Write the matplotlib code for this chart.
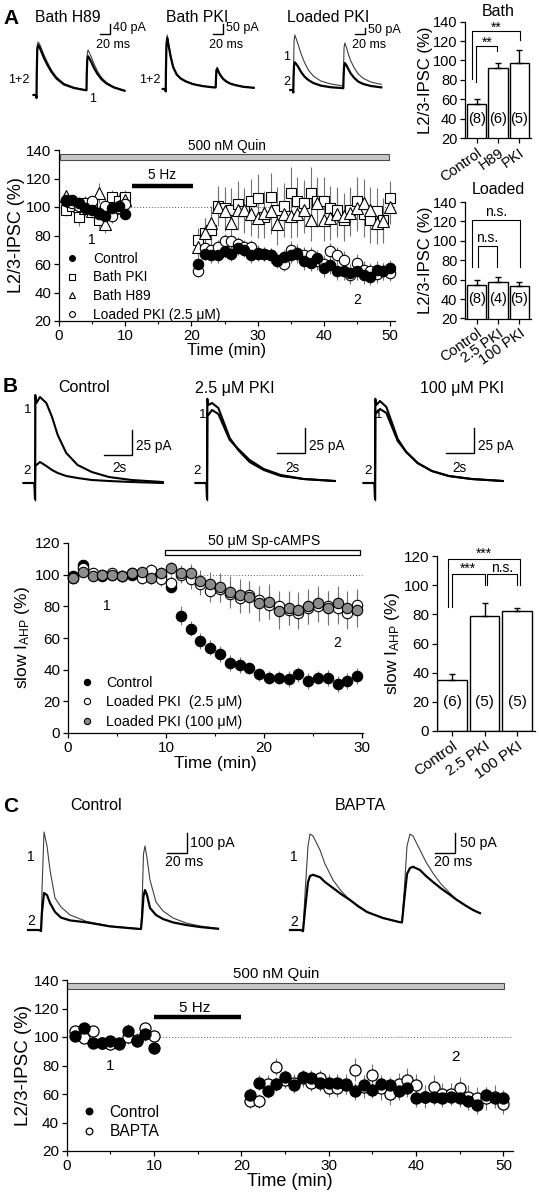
import matplotlib
matplotlib.use("Agg")
import matplotlib.pyplot as plt
from matplotlib.patches import Rectangle

plt.rcParams['font.family'] = ['Liberation Sans', 'DejaVu Sans']
plt.rcParams['mathtext.fontset'] = 'custom'
plt.rcParams['mathtext.rm'] = 'Liberation Sans'
plt.rcParams['mathtext.it'] = 'Liberation Sans:italic'

# ---------------- data: panel A ----------------
time_a = [1, 2, 3, 4, 5, 6, 7, 8, 9, 10,
          21, 22, 23, 24, 25, 26, 27, 28, 29, 30, 31, 32, 33, 34, 35,
          36, 37, 38, 39, 40, 41, 42, 43, 44, 45, 46, 47, 48, 49, 50]
a_control = [104, 105, 103, 99, 98, 96, 94, 99, 101, 95,
             60, 67, 66, 66, 69, 67, 71, 70, 66, 67, 67, 66, 62, 65, 66,
             67, 62, 61, 64, 57, 59, 55, 55, 54, 55, 52, 51, 56, 55, 57]
a_control_err = [3, 3, 4, 4, 4, 5, 5, 4, 4, 3,
                 4, 4, 5, 5, 5, 5, 5, 5, 5, 5, 5, 5, 5, 5, 5,
                 6, 6, 6, 6, 6, 6, 6, 6, 6, 6, 6, 6, 6, 6, 6]
a_bath_pki = [98, 101, 93, 103, 102, 91, 96, 107, 104, 107,
              77, 82, 84, 101, 99, 98, 102, 97, 104, 106, 93, 107, 98, 101, 110,
              104, 103, 110, 104, 104, 99, 98, 91, 98, 104, 95, 91, 97, 91, 106]
a_bath_pki_err = [4, 4, 6, 5, 5, 6, 6, 5, 6, 5,
                  8, 10, 12, 14, 15, 15, 16, 15, 16, 17, 15, 17, 16, 16, 18,
                  17, 16, 18, 17, 17, 16, 16, 15, 16, 17, 16, 16, 16, 15, 12]
a_bath_h89 = [108, 104, 101, 99, 97, 110, 88, 99, 101, 105,
              72, 82, 89, 100, 97, 89, 98, 98, 95, 92, 96, 97, 88, 95, 94,
              95, 98, 91, 103, 91, 92, 95, 94, 96, 99, 103, 98, 89, 90, 100]
a_bath_h89_err = [4, 4, 5, 5, 5, 7, 6, 5, 5, 5,
                  8, 10, 12, 12, 14, 13, 14, 15, 15, 14, 15, 16, 15, 16, 16,
                  16, 16, 15, 17, 15, 15, 16, 16, 16, 16, 17, 16, 15, 15, 12]
a_loaded = [105, 103, 101, 103, 104, 95, 101, 94, 99, 102,
            55, 71, 70, 72, 76, 76, 74, 72, 72, 68, 67, 66, 63, 60, 70,
            68, 66, 66, 62, 60, 69, 66, 63, 52, 61, 56, 55, 53, 55, 54]
a_loaded_err = [3, 3, 4, 4, 4, 5, 5, 5, 4, 4,
                4, 5, 5, 5, 5, 5, 5, 5, 5, 5, 5, 5, 5, 5, 6,
                6, 6, 6, 6, 6, 6, 6, 6, 6, 6, 6, 6, 6, 6, 6]

bath_groups = ['Control', 'H89', 'PKI']
bath_vals = [55, 92, 97]
bath_err = [5, 5, 14]
bath_n = ['(8)', '(6)', '(5)']
loaded_groups = ['Control', '2.5 PKI', '100 PKI']
loaded_vals = [55, 58, 53]
loaded_err = [5, 5, 5]
loaded_n = ['(8)', '(4)', '(5)']

# example IPSC traces (ms, pA)
trace_t_a = [-6, -1, 0, 0.5, 1.5, 3, 6, 10, 15, 22, 30, 40, 55, 75, 96,
             100, 100.5, 101.5, 103, 106, 110, 115, 122, 130, 140, 155, 176]
h89_1 = [0, 0, -12, 90, 190, 212, 205, 185, 160, 130, 100, 72, 46, 30, 21,
         20, 95, 165, 180, 168, 150, 125, 95, 70, 50, 32, 18]
h89_2 = [0, 0, -12, 85, 180, 200, 192, 172, 148, 120, 92, 66, 42, 28, 20,
         19, 85, 140, 155, 146, 130, 108, 84, 63, 46, 30, 17]
bpki_1 = [0, 0, -12, 100, 230, 270, 225, 170, 115, 75, 55, 40, 25, 15, 8,
          8, 50, 100, 110, 90, 70, 52, 38, 28, 20, 12, 6]
bpki_2 = [0, 0, -12, 95, 220, 255, 215, 160, 108, 72, 52, 38, 24, 14, 8,
          8, 48, 95, 100, 84, 66, 50, 36, 26, 19, 11, 6]
lpki_1 = [0, 0, -20, 176, 384, 440, 408, 360, 296, 224, 160, 112, 72, 48, 35,
          32, 176, 336, 376, 344, 288, 232, 176, 128, 93, 64, 45]
lpki_2 = [0, 0, -20, 96, 200, 221, 208, 184, 147, 109, 80, 56, 35, 22, 16,
          14, 96, 184, 216, 200, 168, 131, 96, 67, 48, 32, 21]

# ---------------- data: panel B ----------------
time_b = [0.5, 1.5, 2.5, 3.5, 4.5, 5.5, 6.5, 7.5, 8.5, 9.5,
          10.5, 11.5, 12.5, 13.5, 14.5, 15.5, 16.5, 17.5, 18.5, 19.5,
          20.5, 21.5, 22.5, 23.5, 24.5, 25.5, 26.5, 27.5, 28.5, 29.5]
b_control = [99, 106, 100, 99, 100, 99, 100, 100, 100, 99,
             92, 74, 66, 58, 54, 50, 44, 43, 41, 37,
             35, 35, 34, 37, 33, 35, 35, 31, 33, 36]
b_control_err = [2, 3, 2, 2, 2, 2, 2, 2, 2, 2,
                 3, 6, 5, 5, 5, 5, 5, 5, 4, 4,
                 4, 4, 5, 5, 5, 4, 5, 5, 5, 5]
b_pki25 = [98, 104, 101, 100, 101, 99, 101, 98, 103, 97,
           95, 100, 97, 94, 90, 91, 88, 85, 87, 84,
           81, 80, 78, 76, 79, 80, 80, 79, 76, 81]
b_pki25_err = [2, 3, 3, 3, 3, 3, 3, 4, 4, 4,
               4, 5, 6, 7, 7, 8, 8, 9, 9, 9,
               9, 10, 10, 10, 10, 10, 10, 10, 10, 10]
b_pki100 = [98, 102, 99, 100, 100, 99, 101, 102, 98, 101,
            104, 101, 101, 96, 94, 92, 89, 87, 86, 82,
            83, 77, 79, 78, 80, 82, 79, 82, 79, 78]
b_pki100_err = [2, 3, 3, 3, 3, 3, 3, 3, 4, 4,
                4, 5, 6, 7, 8, 9, 10, 10, 10, 11,
                11, 11, 11, 11, 11, 11, 11, 11, 11, 11]

ahp_groups = ['Control', '2.5 PKI', '100 PKI']
ahp_vals = [35, 79, 82]
ahp_err = [4, 9, 2.5]
ahp_n = ['(6)', '(5)', '(5)']

# sIAHP traces (s, pA)
trace_t_b = [-0.8, -0.05, 0, 0.02, 0.1, 0.35, 0.8, 1.2, 1.6, 2.2, 3.0, 4.0, 5.2, 6.8, 9.0]
ahp_ctrl_1 = [0, 0, -16, 88, 80, 86, 80, 66, 48, 30, 18, 11, 6, 3, 1]
ahp_ctrl_2 = [0, 0, 0, 18, 18, 21, 17, 13, 10, 7, 5, 3, 2, 1, 0]
ahp_p25_1 = [0, 0, -16, 84, 78, 80, 75, 60, 45, 33, 21, 13, 7, 4, 2]
ahp_p25_2 = [0, 0, 0, 70, 68, 73, 69, 56, 43, 34, 23, 14, 8, 4, 2]
ahp_p100_1 = [0, 0, -16, 84, 78, 82, 76, 60, 44, 31, 20, 12, 7, 4, 2]
ahp_p100_2 = [0, 0, 0, 72, 70, 74, 70, 56, 42, 31, 20, 12, 7, 4, 2]

# ---------------- data: panel C ----------------
c_control = [101, 106, 96, 96, 97, 96, 104, 97, 102, 92,
             59, 68, 62, 67, 72, 66, 72, 71, 68, 68, 68, 66, 62, 66, 63,
             67, 66, 62, 64, 57, 58, 58, 57, 58, 57, 55, 52, 59, 57, 57]
c_control_err = [4, 4, 4, 4, 4, 4, 5, 4, 5, 4,
                 5, 5, 5, 5, 5, 5, 5, 6, 6, 6, 6, 6, 6, 6, 6,
                 6, 6, 6, 6, 6, 6, 6, 6, 6, 6, 6, 6, 6, 6, 6]
c_bapta = [104, 99, 104, 96, 95, 95, 100, 98, 106, 101,
           55, 55, 67, 79, 70, 68, 71, 68, 71, 64, 64, 67, 77, 65, 73,
           64, 60, 67, 70, 66, 58, 65, 60, 60, 64, 58, 57, 57, 58, 53]
c_bapta_err = [3, 3, 3, 4, 4, 4, 5, 5, 4, 4,
               5, 5, 6, 6, 6, 6, 6, 6, 6, 6, 6, 7, 8, 8, 8,
               8, 8, 8, 8, 8, 8, 8, 8, 8, 8, 8, 8, 8, 8, 7]

trace_t_c = [-13, -2, 0, 1, 3, 6, 9, 14, 20, 29, 46, 69, 96,
             100, 101, 102.5, 104, 106, 109, 115, 122, 132, 145, 159, 177]
cc_1 = [0, 0, -5, 200, 490, 420, 300, 160, 115, 75, 42, 20, 8,
        6, 120, 380, 420, 360, 250, 140, 95, 60, 35, 20, 8]
cc_2 = [0, 0, -5, 90, 185, 175, 135, 90, 62, 48, 38, 18, 6,
        5, 60, 170, 200, 175, 110, 75, 55, 38, 25, 15, 6]
trace_t_c2 = [-13, -2, 0, 2, 5, 7, 10, 17, 22, 30, 38, 47, 55, 64, 80, 96,
              99, 101, 104, 107, 110, 117, 123, 130, 138, 147, 154, 162, 170, 177]
cb_1 = [0, 0, -3, 90, 210, 240, 235, 200, 165, 125, 98, 75, 58, 45, 30, 20,
        19, 90, 210, 240, 235, 200, 170, 142, 115, 92, 75, 62, 50, 42]
cb_2 = [0, 0, -3, 50, 120, 135, 138, 132, 120, 105, 90, 75, 60, 45, 30, 20,
        19, 70, 140, 155, 158, 150, 135, 120, 104, 88, 75, 62, 50, 42]

# ---------------- figure ----------------
W, H = 539, 1199
fig = plt.figure(figsize=(W / 100, H / 100), dpi=100)


def px_axes(l, t, r, b):
    ax = fig.add_axes([l / W, 1 - b / H, (r - l) / W, (b - t) / H])
    ax.patch.set_alpha(0)
    return ax


def style(ax, fs=10.8):
    for s in ['top', 'right']:
        ax.spines[s].set_visible(False)
    for s in ['left', 'bottom']:
        ax.spines[s].set_linewidth(0.9)
    ax.tick_params(direction='out', length=3.5, width=0.9, labelsize=fs, pad=2)
    ax.tick_params(which='minor', length=2, width=0.8)


def trace_axes(box, origin, sx, sy):
    l, t, r, b = box
    ax = px_axes(l, t, r, b)
    ox, oy = origin
    ax.set_xlim((l - ox) * sx, (r - ox) * sx)
    ax.set_ylim((oy - b) * sy, (oy - t) * sy)
    ax.axis('off')
    return ax


def scalebar(ax, corner, origin, sx, sy, dx, dy):
    cx = (corner[0] - origin[0]) * sx
    cy = (origin[1] - corner[1]) * sy
    ax.plot([cx - dx, cx, cx], [cy, cy, cy + dy], color='k', lw=1.0,
            clip_on=False, solid_joinstyle='miter')


def draw_traces(ax, t, thin, thick):
    ax.plot(t, thin, color='0.25', lw=0.8, clip_on=False)
    ax.plot(t, thick, color='k', lw=1.6, clip_on=False)


def bracket(ax, x1, x2, y, yl, yr, label, ty, fs=10):
    ax.plot([x1, x1, x2, x2], [yl, y, y, yr], color='k', lw=0.8, clip_on=False)
    ax.text((x1 + x2) / 2, ty, label, ha='center', va='center', fontsize=fs)


def bar_chart(ax, groups, vals, errs, ns, n_y, ylim, yticks, fs=10.5):
    pos = [1, 2, 3]
    ax.bar(pos, vals, width=0.91, color='white', edgecolor='k', lw=1.0, zorder=2)
    ax.errorbar(pos, vals, yerr=[[0, 0, 0], errs], fmt='none', ecolor='k',
                elinewidth=1.0, capsize=2.5, capthick=1.0, zorder=3)
    for p, n in zip(pos, ns):
        ax.text(p, n_y, n, ha='center', va='center', fontsize=fs, zorder=4)
    ax.set_ylim(*ylim)
    ax.set_yticks(yticks)
    ax.set_xticks(pos)
    ax.set_xticklabels(groups, rotation=35, ha='right', rotation_mode='anchor', fontsize=fs)
    style(ax, fs)


def errs(ax, t, v, e):
    ax.errorbar(t, v, yerr=e, fmt='none', ecolor='0.45', elinewidth=0.8, capsize=0, zorder=1)


# ---- panel A traces ----
o = (36.5, 95)
ax = trace_axes((25, 25, 130, 110), o, 2, 4)
draw_traces(ax, trace_t_a, h89_1, h89_2)
scalebar(ax, (110, 34.3), o, 2, 4, 20, 40)
o = (165.7, 89)
ax = trace_axes((150, 25, 260, 110), o, 2, 5)
draw_traces(ax, trace_t_a, bpki_1, bpki_2)
scalebar(ax, (222.7, 34.3), o, 2, 5, 20, 50)
o = (293.3, 90)
ax = trace_axes((280, 25, 390, 110), o, 2, 8)
draw_traces(ax, trace_t_a, lpki_1, lpki_2)
scalebar(ax, (365, 34.3), o, 2, 8, 20, 50)

# ---- panel A time course ----
ax = px_axes(59, 150, 395, 321)
errs(ax, time_a, a_bath_pki, a_bath_pki_err)
errs(ax, time_a, a_bath_h89, a_bath_h89_err)
errs(ax, time_a, a_loaded, a_loaded_err)
errs(ax, time_a, a_control, a_control_err)
mk = dict(ls='none', ms=7.5, mew=0.8, mec='k', zorder=3, clip_on=False)
h_pki, = ax.plot(time_a, a_bath_pki, marker='s', mfc='white', **mk)
h_h89, = ax.plot(time_a, a_bath_h89, marker='^', mfc='white', **dict(mk, ms=8.5))
h_lp, = ax.plot(time_a, a_loaded, marker='o', mfc='white', **mk)
h_ct, = ax.plot(time_a, a_control, marker='o', mfc='k', **mk)
ax.add_patch(Rectangle((0.1, 133), 49.8, 4.2, fc='0.78', ec='0.3', lw=0.8, clip_on=False))
ax.text(25.3, 143, '500 nM Quin', ha='center', va='center', fontsize=9.8)
ax.plot([11, 20.3], [115, 115], color='k', lw=3.2, solid_capstyle='butt')
ax.text(15.5, 122.5, '5 Hz', ha='center', va='center', fontsize=9.8)
ax.plot([10, 50.7], [100, 100], ls=(0, (1, 2)), color='0.35', lw=0.7, zorder=0)
ax.text(5, 77, '1', ha='center', va='center', fontsize=10)
ax.text(45, 35, '2', ha='center', va='center', fontsize=10)
ax.legend([h_ct, h_pki, h_h89, h_lp], ['Control', 'Bath PKI', 'Bath H89', 'Loaded PKI (2.5 \u03bcM)'],
          loc='upper left', bbox_to_anchor=(1.0, 68.5), bbox_transform=ax.transData,
          frameon=False, fontsize=9.9, markerscale=0.56, handlelength=1.0,
          handletextpad=1.0, labelspacing=0.33, borderpad=0, borderaxespad=0)
ax.set_xlim(0, 50.75)
ax.set_ylim(20, 140)
ax.set_xticks([0, 10, 20, 30, 40, 50])
ax.set_xticks([5, 15, 25, 35, 45], minor=True)
ax.set_yticks([20, 40, 60, 80, 100, 120, 140])
style(ax, 10.8)
ax.set_xlabel('Time (min)', fontsize=12, labelpad=0)
ax.set_ylabel('L2/3-IPSC (%)', fontsize=13, labelpad=1)

# ---- panel A bars ----
ax = px_axes(465, 21.7, 531, 138)
bar_chart(ax, bath_groups, bath_vals, bath_err, bath_n, 40, (20, 140), [20, 40, 60, 80, 100, 120, 140])
ax.set_xlim(0.45, 3.55)
bracket(ax, 0.99, 1.97, 115, 78, 110, '**', 118.5)
bracket(ax, 0.77, 3.03, 130, 81, 121, '**', 134)
ax.set_title('Bath', fontsize=11.5, pad=4)
ax.set_ylabel('L2/3-IPSC (%)', fontsize=12, labelpad=0)

ax = px_axes(465, 202, 531, 318.5)
bar_chart(ax, loaded_groups, loaded_vals, loaded_err, loaded_n, 40, (20, 140), [20, 40, 60, 80, 100, 120, 140])
ax.set_xlim(0.45, 3.55)
bracket(ax, 1.06, 1.96, 95, 73, 73, 'n.s.', 103)
bracket(ax, 0.77, 3.03, 121.5, 73, 73, 'n.s.', 130)
ax.set_title('Loaded', fontsize=11.5, pad=6)
ax.set_ylabel('L2/3-IPSC (%)', fontsize=12, labelpad=0)

# ---- panel B traces ----
sxb = 1 / 14.2
for ox, th1, th2, corner in [(35, ahp_ctrl_1, ahp_ctrl_2, (132, 455)),
                             (207, ahp_p25_1, ahp_p25_2, (305, 453)),
                             (375, ahp_p100_1, ahp_p100_2, (474, 453))]:
    o = (ox, 483)
    ax = trace_axes((ox - 15, 395, ox + 135, 500), o, sxb, 1.0)
    ax.plot(trace_t_b, th1, color='k', lw=1.5, clip_on=False)
    ax.plot(trace_t_b, th2, color='k', lw=1.5, clip_on=False)
    ax.plot([0, 0], [-17, 85], color='k', lw=1.0, clip_on=False)
    scalebar(ax, corner, o, sxb, 1.0, 2, 25)

# ---- panel B time course ----
ax = px_axes(68, 543, 363, 733)
errs(ax, time_b, b_pki25, b_pki25_err)
errs(ax, time_b, b_pki100, b_pki100_err)
errs(ax, time_b, b_control, b_control_err)
mk = dict(ls='none', ms=7.5, mew=0.8, mec='k', zorder=3, clip_on=False)
hb_c, = ax.plot(time_b, b_control, marker='o', mfc='k', **mk)
hb_25, = ax.plot(time_b, b_pki25, marker='o', mfc='white', **mk)
hb_100, = ax.plot(time_b, b_pki100, marker='o', mfc='0.55', **mk)
ax.add_patch(Rectangle((9.9, 112.5), 19.9, 3.2, fc='white', ec='k', lw=0.9, clip_on=False))
ax.text(20, 121, '50 \u03bcM Sp-cAMPS', ha='center', va='center', fontsize=10.2)
ax.plot([13, 30], [100, 100], ls=(0, (1, 2)), color='0.35', lw=0.7, zorder=0)
ax.text(4, 80, '1', ha='center', va='center', fontsize=10)
ax.text(27.5, 57, '2', ha='center', va='center', fontsize=10)
ax.legend([hb_c, hb_25, hb_100], ['Control', 'Loaded PKI  (2.5 \u03bcM)', 'Loaded PKI (100 \u03bcM)'],
          loc='upper left', bbox_to_anchor=(1.2, 36), bbox_transform=ax.transData,
          frameon=False, fontsize=10.3, markerscale=0.6, handlelength=1.0,
          handletextpad=0.85, labelspacing=0.38, borderpad=0, borderaxespad=0)
ax.set_xlim(0, 30.1)
ax.set_ylim(0, 120)
ax.set_xticks([0, 10, 20, 30])
ax.set_xticks([5, 15, 25], minor=True)
ax.set_yticks([0, 20, 40, 60, 80, 100, 120])
style(ax, 11)
ax.set_xlabel('Time (min)', fontsize=12.5, labelpad=1)
ax.set_ylabel(r'slow I$_{\rm AHP}$ (%)', fontsize=12.5, labelpad=2)

# ---- panel B bars ----
ax = px_axes(437, 556, 535, 731)
bar_chart(ax, ahp_groups, ahp_vals, ahp_err, ahp_n, 20, (0, 120), [0, 20, 40, 60, 80, 100, 120], fs=11)
ax.set_xlim(0.54, 3.55)
bracket(ax, 1.0, 2.0, 108, 85, 100, '***', 111.5)
bracket(ax, 2.09, 3.0, 108, 100, 100, 'n.s.', 111.5)
bracket(ax, 0.88, 3.08, 118, 85, 100, '***', 121.5)
ax.set_ylabel(r'slow I$_{\rm AHP}$ (%)', fontsize=12.5, labelpad=1)

# ---- panel C traces ----
o = (41, 930)
ax = trace_axes((25, 825, 225, 940), o, 1, 5)
draw_traces(ax, trace_t_c, cc_1, cc_2)
scalebar(ax, (187, 853), o, 1, 5, 20, 100)
o = (303, 930)
ax = trace_axes((285, 825, 490, 940), o, 1, 2.5)
draw_traces(ax, trace_t_c2, cb_1, cb_2)
scalebar(ax, (455, 853), o, 1, 2.5, 20, 50)

# ---- panel C time course ----
ax = px_axes(66.7, 980, 513, 1151)
errs(ax, time_a, c_bapta, c_bapta_err)
errs(ax, time_a, c_control, c_control_err)
mk = dict(ls='none', ms=8, mew=0.9, mec='k', zorder=3, clip_on=False)
hc_b, = ax.plot(time_a, c_bapta, marker='o', mfc='white', **mk)
hc_c, = ax.plot(time_a, c_control, marker='o', mfc='k', **mk)
ax.add_patch(Rectangle((0, 133.5), 50.1, 4.2, fc='0.78', ec='0.3', lw=0.8, clip_on=False))
ax.text(24, 144, '500 nM Quin', ha='center', va='center', fontsize=10.8)
ax.plot([10, 20], [114.3, 114.3], color='k', lw=3.2, solid_capstyle='butt')
ax.text(14.7, 120.5, '5 Hz', ha='center', va='center', fontsize=11)
ax.plot([10, 51], [100, 100], ls=(0, (1, 2)), color='0.35', lw=0.7, zorder=0)
ax.text(5, 80, '1', ha='center', va='center', fontsize=11)
ax.text(44.5, 86, '2', ha='center', va='center', fontsize=11)
ax.legend([hc_c, hc_b], ['Control', 'BAPTA'],
          loc='upper left', bbox_to_anchor=(1.7, 52.5), bbox_transform=ax.transData,
          frameon=False, fontsize=11.2, markerscale=0.6, handlelength=1.0,
          handletextpad=0.8, labelspacing=0.3, borderpad=0, borderaxespad=0)
ax.set_xlim(0, 51.1)
ax.set_ylim(20, 140)
ax.set_xticks([0, 10, 20, 30, 40, 50])
ax.set_xticks([5, 15, 25, 35, 45], minor=True)
ax.set_yticks([20, 40, 60, 80, 100, 120, 140])
style(ax, 11)
ax.set_xlabel('Time (min)', fontsize=13, labelpad=0)
ax.set_ylabel('L2/3-IPSC (%)', fontsize=13.5, labelpad=1)

# ---- overlay text (pixel coords) ----
ov = px_axes(0, 0, W, H)
ov.set_xlim(0, W)
ov.set_ylim(H, 0)
ov.axis('off')
for x, y, s in [(3, 18, 'A'), (3, 386, 'B'), (3, 806, 'C')]:
    ov.text(x, y, s, fontsize=15, fontweight='bold', ha='left', va='center')
labels = [
    (35, 17, 'Bath H89', 11.3), (166, 17, 'Bath PKI', 11.3), (287, 17, 'Loaded PKI', 11.3),
    (113, 28, '40 pA', 9), (96, 45, '20 ms', 9),
    (226, 28, '50 pA', 9), (209, 45, '20 ms', 9),
    (368, 30, '50 pA', 9), (352, 45, '20 ms', 9),
    (8, 80, '1+2', 9), (89, 99, '1', 9), (139, 80, '1+2', 9),
    (283, 57, '1', 9), (283, 82, '2', 9),
    (58, 388, 'Control', 11.5), (195, 388, '2.5 \u03bcM PKI', 11.5), (420, 388, '100 \u03bcM PKI', 11.5),
    (24, 410, '1', 9.5), (23, 471, '2', 9.5), (199, 415, '1', 9.5), (193, 471, '2', 9.5),
    (375, 415, '1', 9.5), (364, 471, '2', 9.5),
    (136, 446, '25 pA', 9.8), (309, 446, '25 pA', 9.8), (478, 446, '25 pA', 9.8),
    (112, 468, '2s', 9.8), (285, 468, '2s', 9.8), (452, 468, '2s', 9.8),
    (70, 806, 'Control', 11.5), (335, 806, 'BAPTA', 11.5),
    (190, 843, '100 pA', 10.2), (165, 862, '20 ms', 10.2),
    (460, 843, '50 pA', 10.2), (434, 862, '20 ms', 10.2),
    (27, 857, '1', 10), (27, 921, '2', 10), (290, 857, '1', 10), (290, 922, '2', 10),
]
for x, y, s, fs in labels:
    ov.text(x, y, s, fontsize=fs, ha='left', va='center')

fig.savefig('out.png', dpi=100)
